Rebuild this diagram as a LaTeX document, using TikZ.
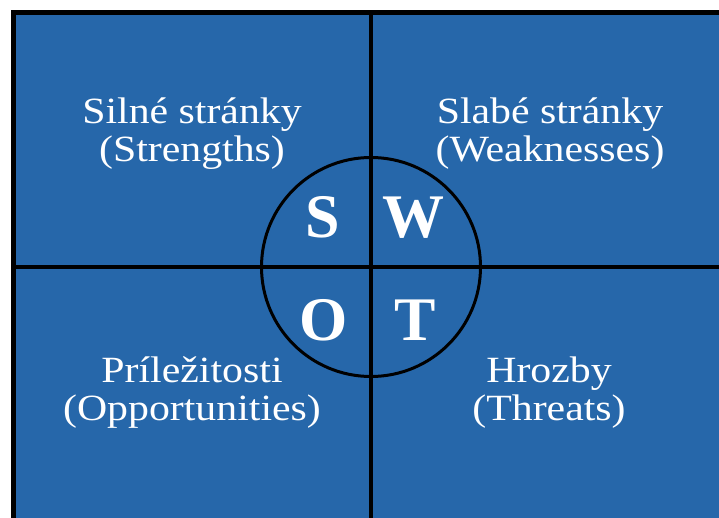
\documentclass[tikz,border=0pt]{standalone}
\usepackage{fontspec}
\setmainfont{Liberation Serif}
\newfontfamily\quadfont[FakeStretch=1.13]{Liberation Serif}
\usetikzlibrary{positioning}
\definecolor{swotblue}{RGB}{38,103,170}
\tikzset{quadrant/.style={text=white,align=center,inner sep=0pt,font=\quadfont\fontsize{37}{38}\selectfont},
         letter/.style={text=white,inner sep=0pt,anchor=base,font=\bfseries\fontsize{62}{62}\selectfont},
         divider/.style={line width=3.5pt},
        }

\begin{document}
\begin{tikzpicture}[x=1pt,y=-1pt]
        \useasboundingbox (0,0) rectangle (719,518);
        \draw[line width=5pt,fill=swotblue](13,13)rectangle(730,530);

        \coordinate(top)at(371,13);
        \coordinate(bot)at(371,530);
        \coordinate(lft)at(13,267);
        \coordinate(rgt)at(730,267);
        \draw[divider](top)--(bot);
        \draw[divider](lft)--(rgt);
        \node[circle,draw,line width=3pt,minimum size=219pt](swot)at(371,267){};

        \node[quadrant](str)at(192,134){Silné stránky\\(Strengths)};
        \node[quadrant](wea)at(550,134){Slabé stránky\\(Weaknesses)};
        \node[quadrant](opp)at(192,393){Príležitosti\\(Opportunities)};
        \node[quadrant](thr)at(549,393){Hrozby\\(Threats)};

        \node[letter](s)at(323,238){S};
        \node[letter](w)at(413,238){W};
        \node[letter](o)at(324,340){O};
        \node[letter](t)at(415,340){T};
    \end{tikzpicture}
\end{document}
